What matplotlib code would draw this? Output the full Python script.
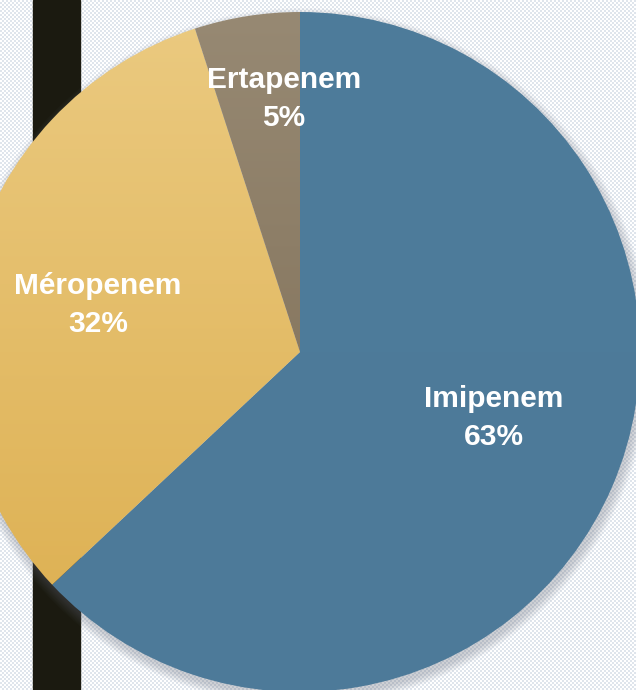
import numpy as np
import matplotlib
matplotlib.use("Agg")
import matplotlib.pyplot as plt
from matplotlib.colors import LinearSegmentedColormap
from matplotlib.patches import Circle, Rectangle

# data
labels = ["Imipenem", "Méropenem", "Ertapenem"]
shares = [63, 32, 5]
# top / bottom gradient colour of each wedge
grad_top = ["#4e7c9b", "#ebca80", "#978973"]
grad_bot = ["#4d7a99", "#dcae4e", "#7a6950"]

W, H = 636, 690
cx, cy, R = 300, H - 352, 340

fig = plt.figure(figsize=(W / 100, H / 100), dpi=100)
ax = fig.add_axes([0, 0, 1, 1])

# checkered light background
yy, xx = np.mgrid[0:H, 0:W]
checker = ((xx // 2 + yy // 2) % 2).astype(float)
bg_cmap = LinearSegmentedColormap.from_list("bg", ["#ffffff", "#dfe5ec"])
ax.imshow(checker, cmap=bg_cmap, extent=(0, W, 0, H), origin="lower",
          interpolation="nearest", zorder=0)

# dark vertical band
ax.add_patch(Rectangle((33, 0), 47, H, color="#1b1a10", zorder=1))

# soft shadow under the pie
for i in range(10):
    ax.add_patch(Circle((cx + 2, cy - 5), R + 9 - i, color="#6a7080",
                        alpha=0.035, lw=0, zorder=2))

wedges, _ = ax.pie(shares, startangle=90, counterclock=False,
                   center=(cx, cy), radius=R, frame=False)

for k, w in enumerate(wedges):
    w.set_facecolor("none")
    w.set_edgecolor("none")
    w.set_zorder(3)
    cm = LinearSegmentedColormap.from_list("g%d" % k, [grad_bot[k], grad_top[k]])
    grad = np.linspace(0, 1, 256).reshape(-1, 1)
    im = ax.imshow(grad, cmap=cm, extent=(cx - R, cx + R, cy - R, cy + R),
                   origin="lower", aspect="auto", zorder=3)
    im.set_clip_path(w)

# label placement (pixel positions, y from top)
label_xy = [(494, 418), (98, 305), (284, 99)]
for lab, pct, (lx, ly) in zip(labels, shares, label_xy):
    ax.text(lx, H - ly, "%s\n%d%%" % (lab, pct), color="white",
            fontsize=21.5, fontweight="bold", family="Liberation Sans",
            ha="center", va="center", linespacing=1.42, zorder=5)

ax.set_xlim(0, W)
ax.set_ylim(0, H)
ax.set_aspect("auto")
ax.axis("off")

fig.savefig("out.png", dpi=100)
